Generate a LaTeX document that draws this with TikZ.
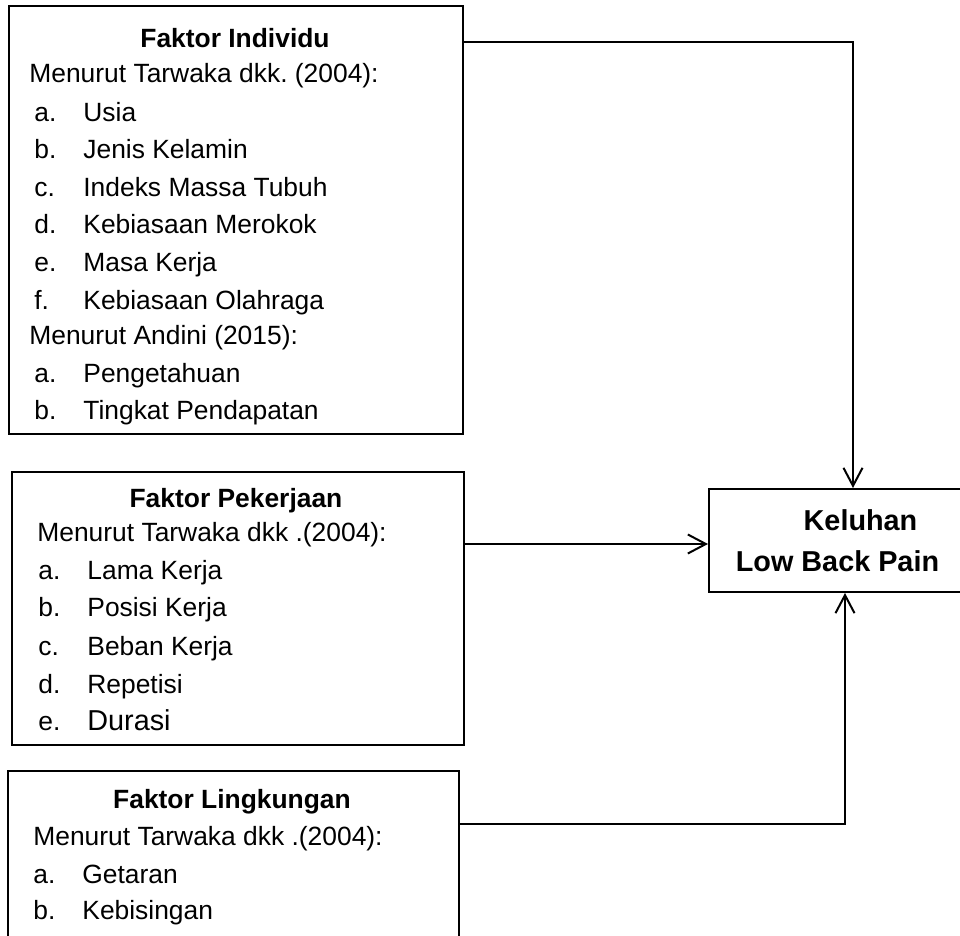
\documentclass[tikz,border=0pt]{standalone}
\usepackage{fontspec}
\setmainfont{Liberation Sans}
\usepackage{tikz}
\usetikzlibrary{arrows.meta, positioning}
\tikzset{
    rectanglenode/.style = {draw, rectangle, line width=1pt, inner sep = 0em, anchor=north west},
    textnode/.style  = {draw=none, fill=none, rectangle, inner sep = 0em, anchor=base west, 
      font=\fontsize{13.2}{16}\selectfont},
    titlenode/.style  = {textnode, anchor=base, font=\fontsize{13.2}{16}\selectfont\bfseries},
    targetnode/.style = {rectanglenode, anchor=north west, align=center, 
      font=\fontsize{14.4}{20.5}\selectfont\bfseries},
    connect/.style = {black, line width=1pt, -{Straight Barb[length=9pt, width=9.5pt, line width=1pt]}},
    every text node part/.style={align=center}
}
\newcommand{\itm}[2]{\makebox[24.5pt][l]{#1}#2}
\frenchspacing

\begin{document}
\begin{tikzpicture}[x=0.5pt, y=-0.5pt]
    \useasboundingbox (0,0) rectangle (960,936);

    % faktor individu
    \node [name=fi, rectanglenode, minimum width=227pt, minimum height=214pt] at (8,5) {};
    \node [name=fit, titlenode] at (235,48) {Faktor Individu};
    \node [name=fim1, textnode] at (29,83) {Menurut Tarwaka dkk. (2004):};
    \node [name=fia, textnode] at (34,122) {\itm{a.}{Usia}};
    \node [name=fib, textnode] at (34,159) {\itm{b.}{Jenis Kelamin}};
    \node [name=fic, textnode] at (34,197) {\itm{c.}{Indeks Massa Tubuh}};
    \node [name=fid, textnode] at (34,234) {\itm{d.}{Kebiasaan Merokok}};
    \node [name=fie, textnode] at (34,272) {\itm{e.}{Masa Kerja}};
    \node [name=fif, textnode] at (34,310) {\itm{f.}{Kebiasaan Olahraga}};
    \node [name=fim2, textnode] at (29,345) {Menurut Andini (2015):};
    \node [name=fig, textnode] at (34,383) {\itm{a.}{Pengetahuan}};
    \node [name=fih, textnode] at (34,420) {\itm{b.}{Tingkat Pendapatan}};

    % faktor pekerjaan
    \node [name=fp, rectanglenode, minimum width=226pt, minimum height=136.5pt] at (11,471) {};
    \node [name=fpt, titlenode] at (236,508) {Faktor Pekerjaan};
    \node [name=fpm, textnode] at (37,542) {Menurut Tarwaka dkk .(2004):};
    \node [name=fpa, textnode] at (38,580) {\itm{a.}{Lama Kerja}};
    \node [name=fpb, textnode] at (38,617) {\itm{b.}{Posisi Kerja}};
    \node [name=fpc, textnode] at (38,655) {\itm{c.}{Beban Kerja}};
    \node [name=fpd, textnode] at (38,693) {\itm{d.}{Repetisi}};
    \node [name=fpe, textnode] at (38,730) {\itm{e.}{\fontsize{14.4}{16}\selectfont Durasi}};

    % faktor lingkungan
    \node [name=fl, rectanglenode, minimum width=225.5pt, minimum height=90pt] at (7,770) {};
    \node [name=flt, titlenode] at (232,808) {Faktor Lingkungan};
    \node [name=flm, textnode] at (33,845) {Menurut Tarwaka dkk .(2004):};
    \node [name=fla, textnode] at (33,883) {\itm{a.}{Getaran}};
    \node [name=flb, textnode] at (33,919) {\itm{b.}{Kebisingan}};

    % keluhan
    \node [name=klbp, targetnode, minimum width=128.5pt, minimum height=51.5pt] at (708,488) 
        {\hspace*{23pt}Keluhan\\Low Back Pain};

    \coordinate (fi-out) at ([yshift=-18.5pt]fi.north east);
    \coordinate (fp-out) at ([yshift=-36.5pt]fp.north east);
    \coordinate (fl-out) at ([yshift=-27pt]fl.north east);
    \draw [connect] (fi-out) -| ([xshift=7.75pt]klbp.north);
    \draw [connect] (fp-out) -- (fp-out -| klbp.west);
    \draw [connect] (fl-out) -| ([xshift=3.75pt]klbp.south);
\end{tikzpicture}
\end{document}
